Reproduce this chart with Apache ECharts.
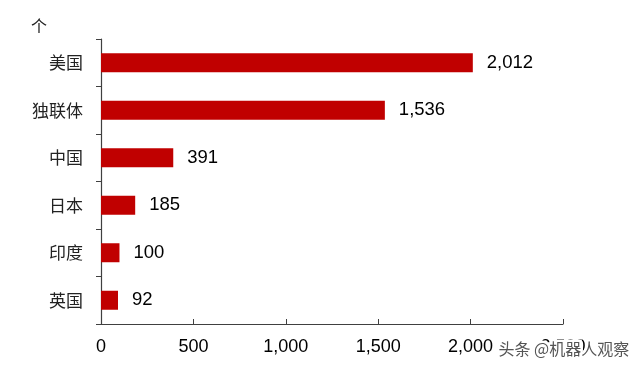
<!DOCTYPE html>
<html><head><meta charset="utf-8">
<script src="https://cdn.jsdelivr.net/npm/echarts@6/dist/echarts.min.js"></script>
<style>html,body{margin:0;padding:0;background:#fff}#c{width:640px;height:369px}</style>
</head><body><div id="c"></div>
<script>
const categories = ['美国','独联体','中国','日本','印度','英国'];
const values = [2012,1536,391,185,100,92];
const xTicks = [0,500,1000,1500,2000,2500];
const unitLabel = '个';

const chart = echarts.init(document.getElementById('c'));
chart.setOption({
  animation:false,
  grid:{left:101,right:77,top:39,bottom:45},
  xAxis:{type:'value',min:xTicks[0],max:xTicks[xTicks.length-1],interval:500,
    axisLine:{show:true,lineStyle:{color:'#404040',width:1.2}},
    axisTick:{show:true,inside:true,length:5,lineStyle:{color:'#404040'}},
    splitLine:{show:false},
    axisLabel:{color:'#000',fontSize:18,fontFamily:'Liberation Sans, Arial',margin:14,
      formatter:v=>v.toLocaleString('en-US')}},
  yAxis:{type:'category',data:categories,inverse:true,
    axisLine:{show:true,lineStyle:{color:'#404040',width:1.2}},
    axisTick:{show:true,length:5,lineStyle:{color:'#404040'}},
    axisLabel:{color:'#222',fontSize:17,fontFamily:'Noto Sans CJK SC',margin:18}},
  series:[{type:'bar',data:values,barWidth:'40%',
    itemStyle:{color:'#C00000'},
    label:{show:true,position:'right',distance:14,color:'#000',fontSize:18.5,
      fontFamily:'Liberation Sans, Arial',formatter:p=>p.value.toLocaleString('en-US')}}],
  graphic:[
    {type:'text',left:31,top:18,style:{text:unitLabel,fontSize:16,fill:'#222',fontFamily:'Noto Sans CJK SC'}},
    {type:'text',left:496,top:338,z:100,zlevel:1,style:{text:'头条 @机器人观察',fontSize:16,fill:'#555',fontFamily:'Noto Sans CJK SC',stroke:'#fff',lineWidth:5}}
  ]
});
</script></body></html>
